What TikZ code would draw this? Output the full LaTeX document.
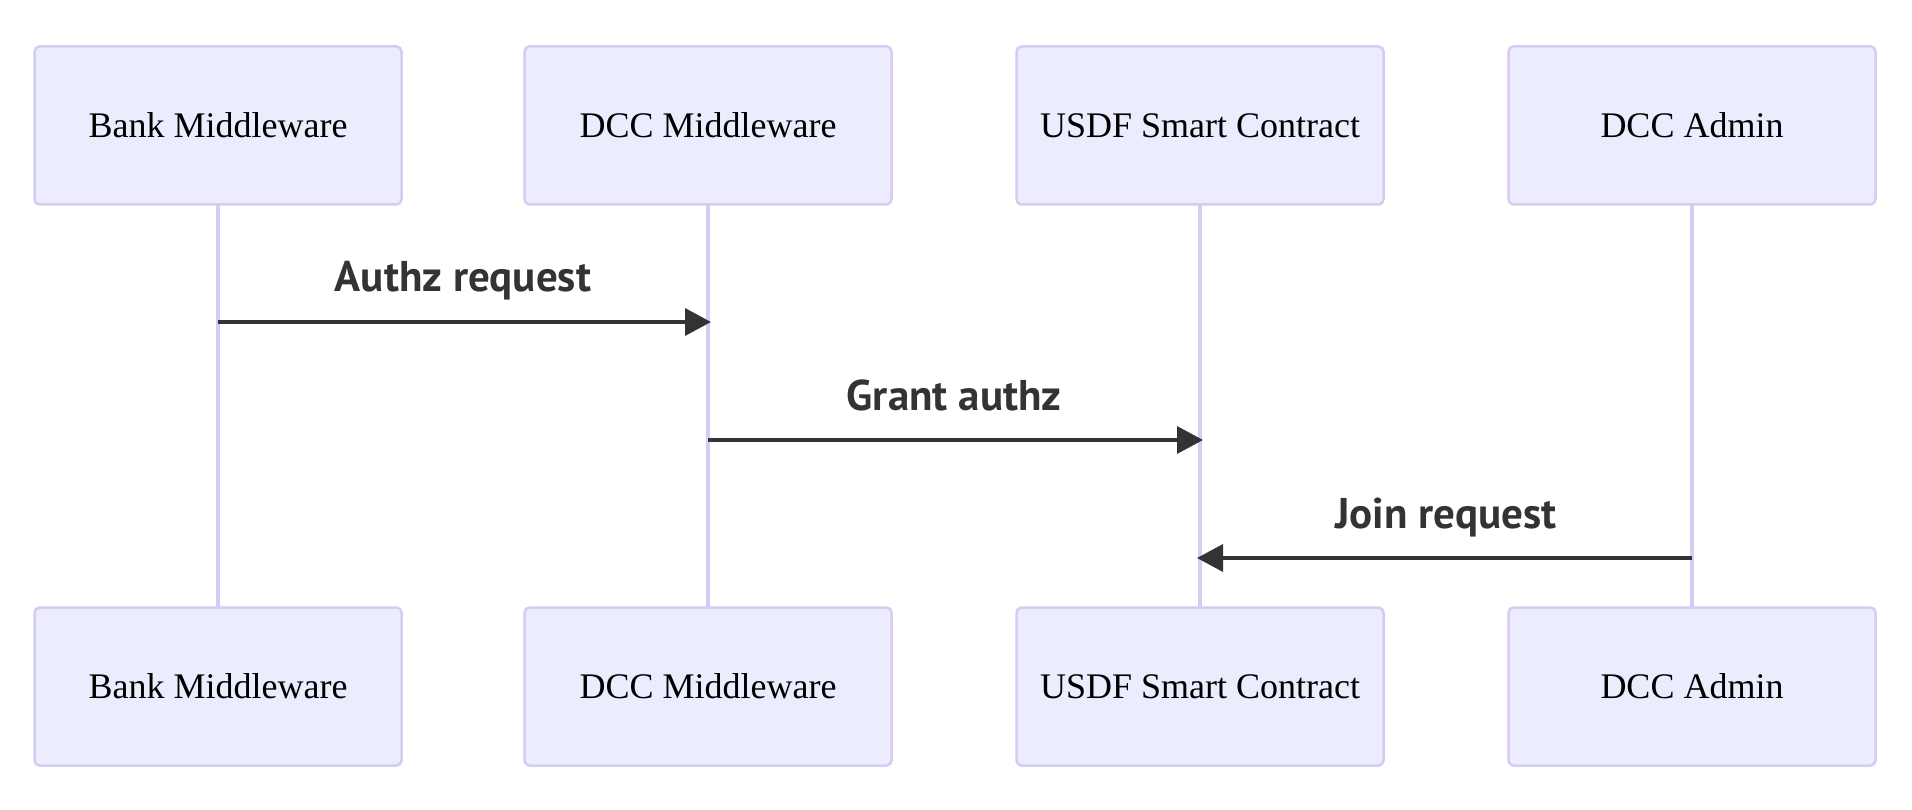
\documentclass[tikz,border=0pt]{standalone}
\usepackage{fontspec}
\setmainfont{Liberation Serif}
\newfontfamily\lblfont{PT Sans}
\usetikzlibrary{arrows.meta,calc}
\definecolor{actfill}{HTML}{ECECFF}
\definecolor{actline}{HTML}{D6CBF3}
\definecolor{msg}{HTML}{333333}
\begin{document}
\begin{tikzpicture}[x=1pt,y=-1pt,
  actor/.style={draw=actline, fill=actfill, line width=2.5pt, rounded corners=5pt,
    minimum width=367pt, minimum height=158pt, inner sep=0pt,
    font=\fontsize{36}{40}\selectfont},
  life/.style={draw=actline, line width=4pt},
  msgline/.style={draw=msg, line width=3.5pt, shorten >=-3pt, -{Triangle[length=26pt,width=27pt]}},
  lbl/.style={font=\lblfont\bfseries\fontsize{43}{48}\selectfont, text=msg, anchor=base, inner sep=0pt}]
\useasboundingbox (0,0) rectangle (1912,810);
% lifelines first (behind boxes)
\coordinate (lt1) at (218,204); \coordinate (lb1) at (218,607);
\coordinate (lt2) at (708,204); \coordinate (lb2) at (708,607);
\coordinate (lt3) at (1200,204); \coordinate (lb3) at (1200,607);
\coordinate (lt4) at (1692,204); \coordinate (lb4) at (1692,607);
\foreach \i in {1,2,3,4} {\draw[life] (lt\i) -- (lb\i);}
% actors
\node[actor] (t1) at (218,125.5) {Bank Middleware};
\node[actor] (t2) at (708,125.5) {DCC Middleware};
\node[actor] (t3) at (1200,125.5) {USDF Smart Contract};
\node[actor] (t4) at (1692,125.5) {DCC Admin};
\node[actor] (b1) at (218,686.5) {Bank Middleware};
\node[actor] (b2) at (708,686.5) {DCC Middleware};
\node[actor] (b3) at (1200,686.5) {USDF Smart Contract};
\node[actor] (b4) at (1692,686.5) {DCC Admin};
% message rows
\coordinate (y1) at (0,322);
\coordinate (y2) at (0,440);
\coordinate (y3) at (0,558);
\draw[msgline] (t1 |- y1) -- (t2 |- y1);
\draw[msgline] (t2 |- y2) -- (t3 |- y2);
\draw[msgline] (t4 |- y3) -- (t3 |- y3);
\node[lbl] (l1) at ($(t1 |- y1)!0.5!(t2 |- y1) + (0,-30)$) {Authz request};
\node[lbl] (l2) at ($(t2 |- y2)!0.5!(t3 |- y2) + (0,-30)$) {Grant authz};
\node[lbl] (l3) at ($(t3 |- y3)!0.5!(t4 |- y3) + (0,-30)$) {Join request};
\end{tikzpicture}
\end{document}
